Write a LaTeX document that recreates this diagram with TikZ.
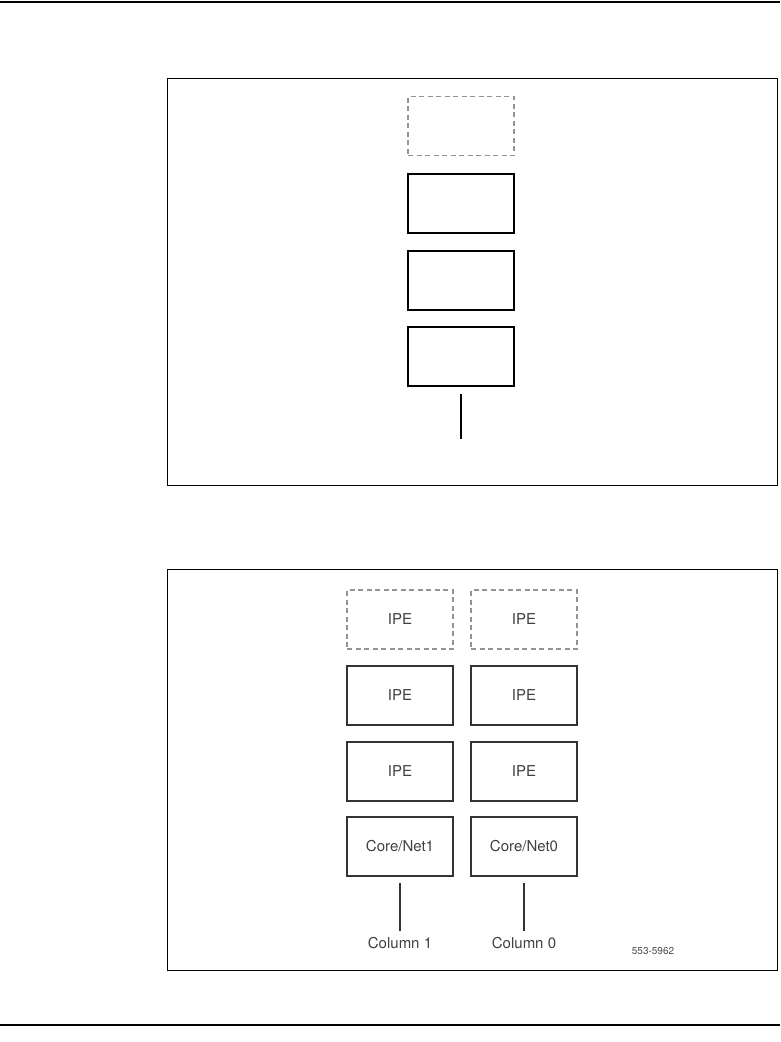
\documentclass[tikz,border=0pt]{standalone}
\usepackage{fontspec}
\setmainfont{TeX Gyre Heros}
\begin{document}
\begin{tikzpicture}[x=1pt, y=-1pt, font=\fontsize{15}{17}\selectfont,
  unit/.style={draw, line width=1.5pt, minimum width=106pt, minimum height=59pt, inner sep=0pt},
  spare/.style={unit, draw=gray!85, line width=1.1pt, dash pattern=on 5pt off 3.5pt},
  shelf/.style={draw, line width=1.1pt, draw=black!80, text=black!75, minimum width=106pt, minimum height=59pt, inner sep=0pt},
  sparebox/.style={shelf, draw=gray!85, dash pattern=on 5pt off 3.5pt},
  frame/.style={draw, line width=1pt}]
\useasboundingbox (0,0) rectangle (780,1042);
% page rules
\draw[line width=2pt] (0,1.5) -- (780,1.5);
\draw[line width=2pt] (0,1025) -- (780,1025);
% upper panel
\node[frame, minimum width=610pt, minimum height=407pt, inner sep=0pt] (top) at (472,281.5) {};
\node[spare] (s0) at (461,126) {};
\node[unit] (u2) at (461,203.5) {};
\node[unit] (u1) at (461,280.5) {};
\node[unit] (u0) at (461,356.5) {};
\coordinate (t0) at (461,439);
\draw[line width=1.5pt] ([yshift=-7pt]u0.south) -- (t0);
% lower panel
\node[frame, minimum width=610pt, minimum height=401pt, inner sep=0pt] (bot) at (472,769.5) {};
\foreach \col/\x in {1/400, 0/524} {
  \node[sparebox] (ipeC\col) at (\x,619.5) {IPE};
  \node[shelf] (ipeB\col) at (\x,695.5) {IPE};
  \node[shelf] (ipeA\col) at (\x,771.5) {IPE};
  \node[shelf] (core\col) at (\x,846.5) {Core/Net\col};
  \node[text=black!75, inner sep=2pt] (lbl\col) at (\x,943) {Column \col};
  \draw[line width=1.2pt, black!80] ([yshift=-6pt]core\col.south) -- ([yshift=4pt]lbl\col.north);
}
\node[font=\fontsize{10}{12}\selectfont, text=black!70] (fig) at (653,951) {553-5962};
\end{tikzpicture}
\end{document}
